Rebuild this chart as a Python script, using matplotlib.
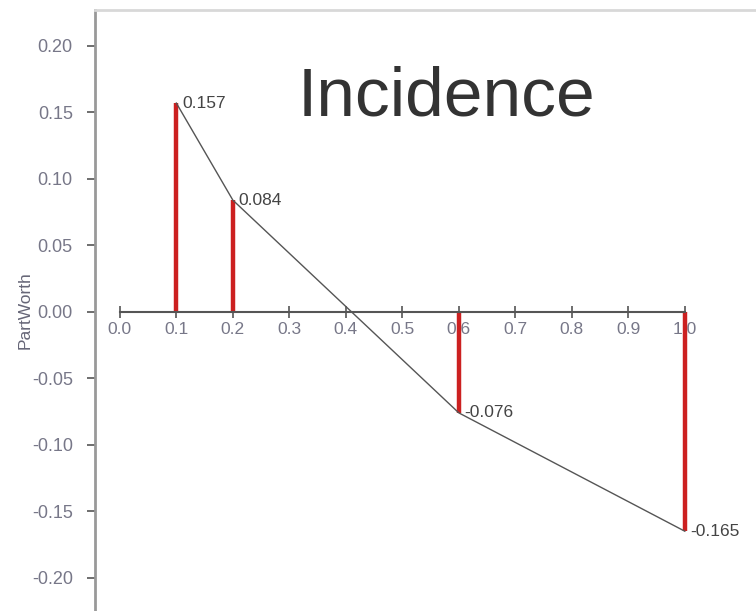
import numpy as np
from matplotlib import pyplot as plt

# level values and part-worths
levels = [0.1, 0.2, 0.6, 1.0]
partworth = [0.157, 0.084, -0.076, -0.165]
labels = ["0.157", "0.084", "-0.076", "-0.165"]
xticks = [0.0, 0.1, 0.2, 0.3, 0.4, 0.5, 0.6, 0.7, 0.8, 0.9, 1.0]
yticks = [-0.20, -0.15, -0.10, -0.05, 0.00, 0.05, 0.10, 0.15, 0.20]

plt.rcParams['font.family'] = ['Liberation Sans', 'DejaVu Sans']

fig = plt.figure(figsize=(7.56, 6.11), dpi=100)
ax = fig.add_axes([95 / 756, 0, 1 - 95 / 756, 1 - 10 / 611])

ax.set_xlim(-0.044, 1.126)
ax.set_ylim(-0.225, 0.227)

ax.vlines(levels, 0, partworth, color='#cc2020', lw=3.2, zorder=2)
ax.plot(levels, partworth, color='#555555', lw=1.0, zorder=3)

for x, y, t in zip(levels, partworth, labels):
    ax.annotate(t, (x, y), xytext=(4, 0), textcoords='offset points',
                va='center', ha='left', fontsize=12.5, color='#444444')

# spines
ax.spines['right'].set_visible(False)
ax.spines['top'].set_color('#d8d8d8')
ax.spines['top'].set_linewidth(2)
ax.spines['left'].set_color('#999999')
ax.spines['left'].set_linewidth(2)
ax.spines['bottom'].set_position(('data', 0))
ax.spines['bottom'].set_bounds(0, 1)
ax.spines['bottom'].set_color('#555555')
ax.spines['bottom'].set_linewidth(1.5)

ax.set_xticks(xticks)
ax.set_xticklabels(["%.1f" % v for v in xticks])
ax.set_yticks(yticks)
ax.set_yticklabels(["%.2f" % v for v in yticks])
ax.tick_params(axis='x', direction='inout', length=8, width=1.2, color='#555555',
               labelsize=12.5, labelcolor='#777788', pad=3)
ax.tick_params(axis='y', direction='out', length=6, width=1.2, color='#555555',
               labelsize=13, labelcolor='#777788', pad=10)

fig.text(25 / 756, 1 - 310 / 611, "PartWorth", rotation=90, ha='center', va='center',
         fontsize=12.5, color='#666677')
fig.text(446 / 756, 1 - 115 / 611, "Incidence", ha='center', va='baseline',
         fontsize=50, color='#333333')

fig.savefig("out.png", dpi=100)
